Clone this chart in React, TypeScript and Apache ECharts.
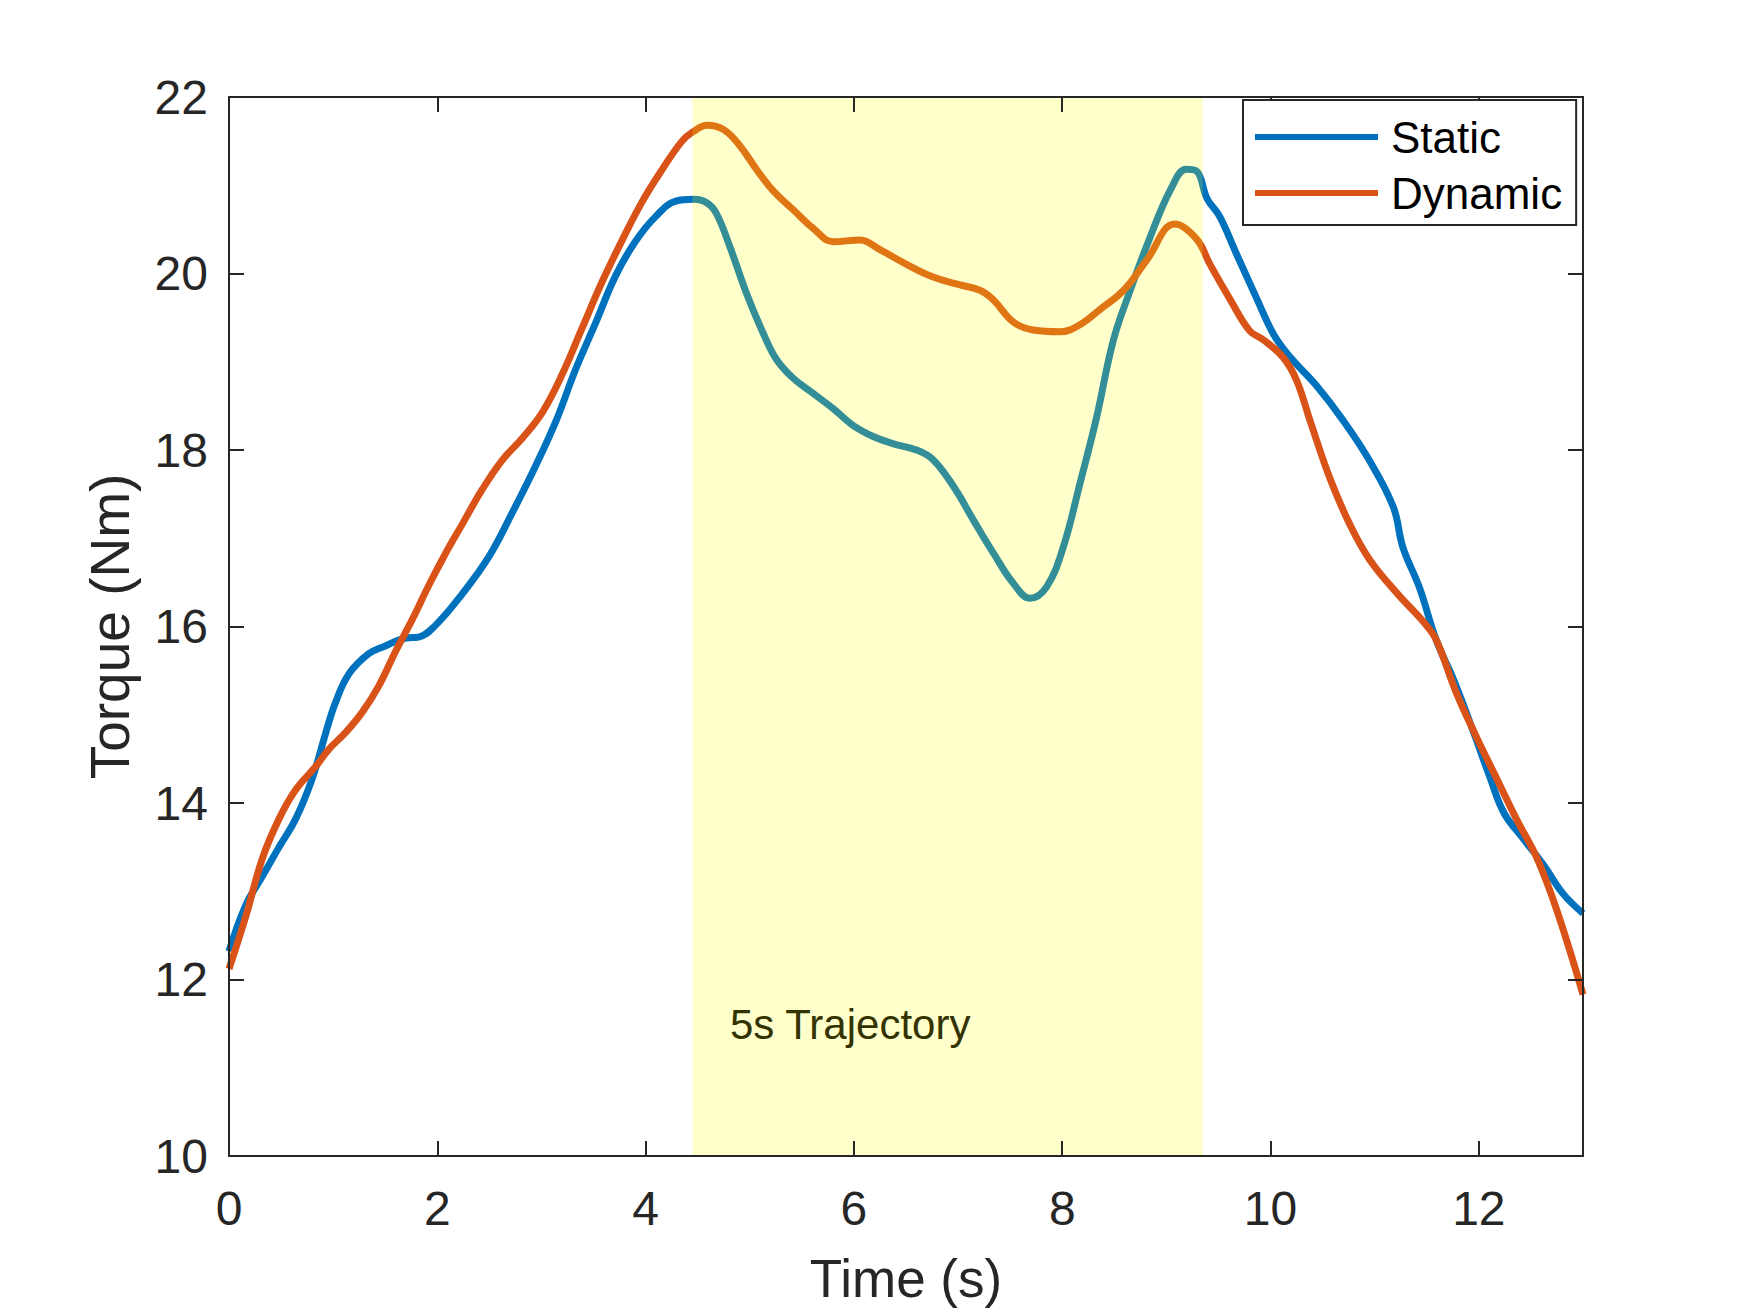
import React, { useEffect, useRef } from "react";
import * as echarts from "echarts";

const xTicks = [0, 2, 4, 6, 8, 10, 12];
const yTicks = [10, 12, 14, 16, 18, 20, 22];

const staticTime = [
  0, 0.16, 0.32, 0.48, 0.64, 0.8, 0.93, 1.02, 1.15, 1.34, 1.5, 1.7, 1.82, 1.98, 2.24, 2.5, 2.72, 2.94,
  3.14, 3.33, 3.52, 3.71, 3.9, 4.1, 4.29, 4.46, 4.59, 4.68, 4.81, 4.97, 5.13, 5.26, 5.42, 5.61, 5.8,
  5.99, 6.19, 6.38, 6.6, 6.76, 6.96, 7.15, 7.34, 7.53, 7.69, 7.85, 8.01, 8.17, 8.33, 8.49, 8.65, 8.84,
  9.04, 9.19, 9.29, 9.39, 9.51, 9.67, 9.87, 10.03, 10.19, 10.44, 10.7, 10.95, 11.18, 11.27, 11.43,
  11.59, 11.76, 11.95, 12.11, 12.24, 12.43, 12.62, 12.81, 13.0,
];
const staticTorque = [
  12.32, 12.84, 13.17, 13.5, 13.82, 14.28, 14.8, 15.13, 15.46, 15.69, 15.78, 15.87, 15.88, 16.01,
  16.37, 16.8, 17.29, 17.81, 18.33, 18.92, 19.44, 19.97, 20.36, 20.65, 20.82, 20.84, 20.8, 20.68,
  20.3, 19.77, 19.32, 19.02, 18.81, 18.64, 18.47, 18.28, 18.15, 18.07, 18.0, 17.89, 17.58, 17.2,
  16.83, 16.49, 16.32, 16.45, 16.9, 17.62, 18.37, 19.24, 19.8, 20.4, 20.95, 21.18, 21.16, 20.85,
  20.65, 20.23, 19.71, 19.31, 19.05, 18.73, 18.33, 17.88, 17.35, 16.9, 16.44, 15.85, 15.39, 14.8,
  14.28, 13.89, 13.59, 13.3, 12.97, 12.75,
];

const dynamicTime = [
  0, 0.16, 0.32, 0.48, 0.64, 0.83, 0.96, 1.12, 1.28, 1.44, 1.6, 1.76, 1.92, 2.08, 2.24, 2.43, 2.62,
  2.82, 3.01, 3.2, 3.39, 3.58, 3.78, 3.97, 4.16, 4.35, 4.46, 4.59, 4.75, 4.91, 5.07, 5.23, 5.42, 5.61,
  5.8, 6.06, 6.25, 6.51, 6.76, 7.02, 7.21, 7.34, 7.53, 7.72, 7.98, 8.17, 8.36, 8.59, 8.81, 9.08, 9.29,
  9.42, 9.61, 9.8, 9.93, 10.12, 10.25, 10.38, 10.57, 10.76, 10.95, 11.22, 11.47, 11.59, 11.78, 11.98,
  12.17, 12.36, 12.56, 12.75, 13.0,
];
const dynamicTorque = [
  12.12, 12.71, 13.37, 13.82, 14.15, 14.41, 14.61, 14.8, 15.03, 15.33, 15.72, 16.08, 16.47, 16.83,
  17.16, 17.55, 17.88, 18.14, 18.43, 18.86, 19.38, 19.9, 20.39, 20.82, 21.18, 21.5, 21.61, 21.68,
  21.63, 21.44, 21.17, 20.93, 20.72, 20.51, 20.36, 20.38, 20.27, 20.1, 19.96, 19.87, 19.81, 19.7,
  19.45, 19.36, 19.34, 19.42, 19.59, 19.81, 20.15, 20.56, 20.39, 20.1, 19.71, 19.35, 19.25, 19.05,
  18.79, 18.33, 17.68, 17.16, 16.76, 16.37, 16.05, 15.85, 15.26, 14.74, 14.28, 13.82, 13.37, 12.78,
  11.83,
];

const trajectoryStart = 4.45;
const trajectoryEnd = 9.35;
const trajectoryLabel = "5s Trajectory";

const FONT = "'Liberation Sans', Arial, Helvetica, sans-serif";
const AXIS_COLOR = "#262626";

export default function App() {
  const ref = useRef<HTMLDivElement>(null);

  useEffect(() => {
    if (!ref.current) return;
    const chart = echarts.init(ref.current, undefined, { renderer: "svg" });

    const zip = (ts: number[], vs: number[]) => ts.map((t, i) => [t, vs[i]]);

    const axisLine = { show: true, onZero: false, lineStyle: { color: AXIS_COLOR, width: 2 } };
    const tickStyle = { show: true, inside: true, length: 15, lineStyle: { color: AXIS_COLOR, width: 2 } };

    chart.setOption({
      animation: false,
      backgroundColor: "#ffffff",
      textStyle: { fontFamily: FONT },
      grid: { left: 229, top: 97, width: 1354, height: 1059, containLabel: false },
      legend: {
        data: ["Static", "Dynamic"],
        orient: "vertical",
        left: 1243,
        top: 100,
        padding: [9, 14, 4, 12],
        itemGap: 0,
        itemWidth: 123,
        itemHeight: 6,
        icon: "rect",
        borderColor: AXIS_COLOR,
        borderWidth: 2,
        backgroundColor: "#ffffff",
        z: 20,
        textStyle: { fontSize: 44, color: "#000000", lineHeight: 56, fontFamily: FONT, padding: [0, 0, 0, 8] },
      },
      xAxis: [
        {
          type: "value",
          min: 0,
          max: 13,
          interval: 2,
          position: "bottom",
          name: "Time (s)",
          nameLocation: "middle",
          nameGap: 96,
          nameTextStyle: { fontSize: 53, color: AXIS_COLOR, fontFamily: FONT },
          axisLine,
          axisTick: { ...tickStyle, customValues: xTicks },
          axisLabel: { fontSize: 48, color: AXIS_COLOR, margin: 28, fontFamily: FONT, customValues: xTicks },
          splitLine: { show: false },
          z: 15,
        },
        {
          type: "value",
          min: 0,
          max: 13,
          interval: 2,
          position: "top",
          axisLine,
          axisTick: { ...tickStyle, customValues: xTicks },
          axisLabel: { show: false },
          splitLine: { show: false },
          z: 15,
        },
      ],
      yAxis: [
        {
          type: "value",
          min: 10,
          max: 22,
          interval: 2,
          position: "left",
          name: "Torque (Nm)",
          nameLocation: "middle",
          nameGap: 92,
          nameTextStyle: { fontSize: 55, color: AXIS_COLOR, fontFamily: FONT },
          axisLine,
          axisTick: { ...tickStyle, customValues: yTicks },
          axisLabel: { fontSize: 48, color: AXIS_COLOR, margin: 21, fontFamily: FONT, customValues: yTicks },
          splitLine: { show: false },
          z: 15,
        },
        {
          type: "value",
          min: 10,
          max: 22,
          interval: 2,
          position: "right",
          axisLine,
          axisTick: { ...tickStyle, customValues: yTicks },
          axisLabel: { show: false },
          splitLine: { show: false },
          z: 15,
        },
      ],
      series: [
        {
          name: "Static",
          type: "line",
          data: zip(staticTime, staticTorque),
          showSymbol: false,
          smooth: 0.4,
          color: "#0072BD",
          lineStyle: { width: 7, color: "#0072BD" },
          z: 2,
          clip: true,
        },
        {
          name: "Dynamic",
          type: "line",
          data: zip(dynamicTime, dynamicTorque),
          showSymbol: false,
          smooth: 0.4,
          color: "#D95319",
          lineStyle: { width: 7, color: "#D95319" },
          z: 2,
          clip: true,
        },
        {
          name: "trajectory",
          type: "line",
          data: [],
          z: 3,
          silent: true,
          markArea: {
            silent: true,
            z: 10,
            itemStyle: { color: "rgba(255,255,0,0.2)" },
            data: [[{ xAxis: trajectoryStart }, { xAxis: trajectoryEnd }]],
          },
        },
      ],
      graphic: [
        {
          type: "text",
          left: 730,
          top: 1003,
          z: 12,
          style: {
            text: trajectoryLabel,
            fontSize: 42,
            fontFamily: FONT,
            fill: "#333300",
          },
        },
      ],
    });

    return () => chart.dispose();
  }, []);

  return <div ref={ref} style={{ position: "absolute", left: 0, top: 0, width: 1750, height: 1313 }} />;
}
